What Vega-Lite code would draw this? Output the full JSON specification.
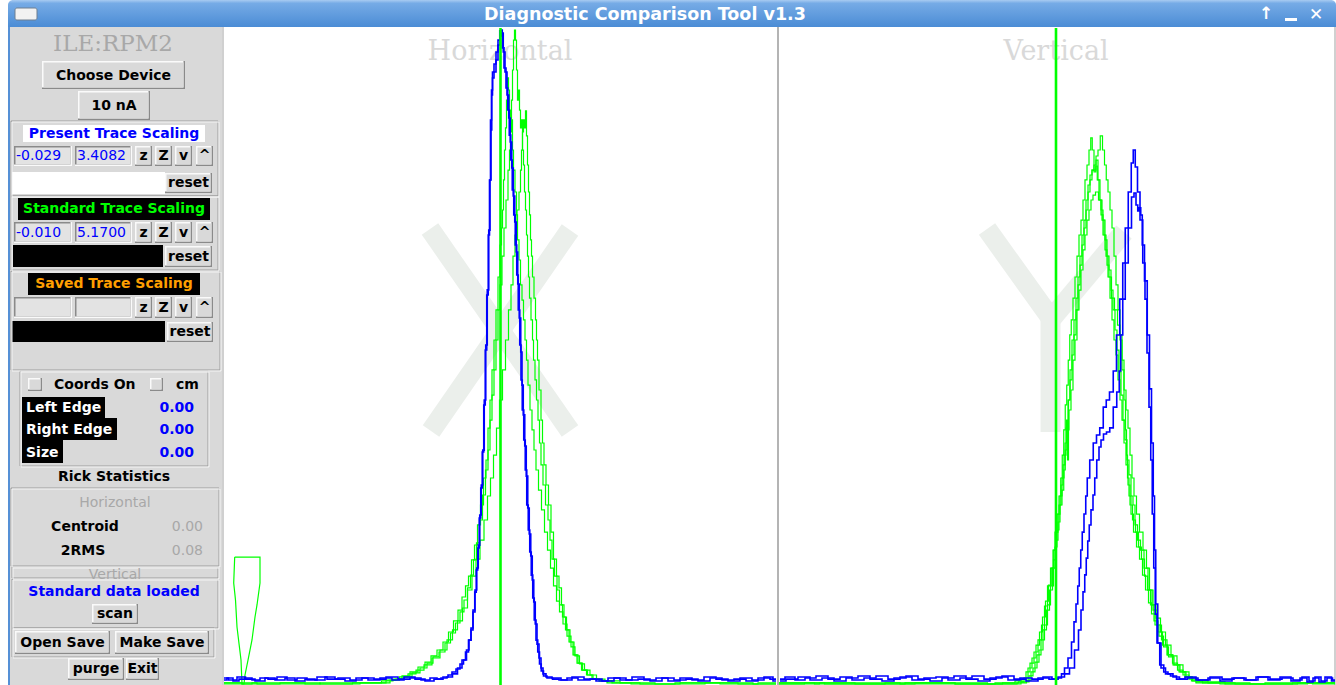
{
"$schema":"https://vega.github.io/schema/vega-lite/v6.json",
"width":1336,"height":685,"padding":0,"autosize":{"type":"none"},
"background":"#ffffff",
"config":{"view":{"stroke":null}},
"datasets":{
"titlebar":[{"x":8,"x2":1336,"y":0,"y2":27}],
"iconbox":[{"x":15,"x2":37,"y":8,"y2":20}],
"areas":[
{"x":8,"x2":10,"y":27,"y2":685,"tone":"frame"},
{"x":10,"x2":222,"y":27,"y2":685,"tone":"panel"},
{"x":222,"x2":224,"y":27,"y2":685,"tone":"edge"},
{"x":777,"x2":779,"y":27,"y2":685,"tone":"divider"},
{"x":1334,"x2":1336,"y":27,"y2":685,"tone":"edge"},
{"x":23,"x2":205,"y":125,"y2":142,"tone":"paper"},
{"x":12,"x2":165,"y":172,"y2":194,"tone":"paper"},
{"x":18,"x2":210,"y":198,"y2":220,"tone":"ink"},
{"x":13,"x2":163,"y":245,"y2":267,"tone":"ink"},
{"x":28,"x2":200,"y":273,"y2":295,"tone":"ink"},
{"x":12,"x2":165,"y":321,"y2":342,"tone":"ink"},
{"x":22,"x2":105,"y":397,"y2":418,"tone":"ink"},
{"x":22,"x2":117,"y":418,"y2":440,"tone":"ink"},
{"x":22,"x2":63,"y":440,"y2":463,"tone":"ink"},
{"x":1285,"x2":1297,"y":18,"y2":21,"tone":"inverse"}
],
"frames":[
{"x":11,"x2":218,"y":121,"y2":196},
{"x":11,"x2":218,"y":196,"y2":270},
{"x":11,"x2":220,"y":271,"y2":370},
{"x":20,"x2":208,"y":371,"y2":466},
{"x":11,"x2":219,"y":488,"y2":566},
{"x":12,"x2":218,"y":567,"y2":578},
{"x":12,"x2":218,"y":579,"y2":628},
{"x":12,"x2":214,"y":628,"y2":657}
],
"raised":[
{"x":42,"x2":185,"y":61,"y2":89},
{"x":78,"x2":150,"y":91,"y2":120},
{"x":135,"x2":152,"y":146,"y2":166},{"x":155,"x2":172,"y":146,"y2":166},{"x":175,"x2":192,"y":146,"y2":166},{"x":196,"x2":213,"y":146,"y2":166},
{"x":135,"x2":152,"y":222,"y2":243},{"x":155,"x2":172,"y":222,"y2":243},{"x":175,"x2":192,"y":222,"y2":243},{"x":196,"x2":213,"y":222,"y2":243},
{"x":135,"x2":152,"y":297,"y2":318},{"x":155,"x2":172,"y":297,"y2":318},{"x":175,"x2":192,"y":297,"y2":318},{"x":196,"x2":213,"y":297,"y2":318},
{"x":165,"x2":212,"y":173,"y2":193},
{"x":165,"x2":212,"y":246,"y2":267},
{"x":167,"x2":213,"y":322,"y2":342},
{"x":28,"x2":42,"y":378,"y2":391},
{"x":150,"x2":163,"y":378,"y2":391},
{"x":92,"x2":138,"y":604,"y2":624},
{"x":15,"x2":110,"y":631,"y2":654},
{"x":115,"x2":209,"y":631,"y2":654},
{"x":68,"x2":124,"y":658,"y2":680},
{"x":126,"x2":159,"y":658,"y2":680}
],
"sunken":[
{"x":14,"x2":72,"y":146,"y2":166},{"x":75,"x2":132,"y":146,"y2":166},
{"x":14,"x2":72,"y":222,"y2":243},{"x":75,"x2":132,"y":222,"y2":243},
{"x":14,"x2":72,"y":297,"y2":318},{"x":75,"x2":132,"y":297,"y2":318}
],
"glyph":[
{"s":"x1","x":430,"y":229},{"s":"x1","x":570,"y":431},
{"s":"x2","x":570,"y":230},{"s":"x2","x":431,"y":431},
{"s":"y1","x":987,"y":229},{"s":"y1","x":1055,"y":324},
{"s":"y2","x":1124,"y":232},{"s":"y2","x":1047,"y":324},
{"s":"y3","x":1050.5,"y":316},{"s":"y3","x":1050.6,"y":432}
],
"plotTitles":[{"label":"Horizontal","x":500,"y":52},{"label":"Vertical","x":1056,"y":52}],
"device":[{"label":"ILE:RPM2","x":113,"y":44}],
"windowTitle":[{"label":"Diagnostic Comparison Tool v1.3","x":645,"y":15}],
"windowIcons":[{"label":"↑","x":1266,"y":14},{"label":"✕","x":1316,"y":15}],
"boldCenter":[
{"label":"Choose Device","x":113.5,"y":75.5,"tone":"ink"},
{"label":"10 nA","x":114,"y":106,"tone":"ink"},
{"label":"Present Trace Scaling","x":114,"y":133.5,"tone":"present"},
{"label":"z","x":143.5,"y":156,"tone":"ink"},{"label":"Z","x":163.5,"y":156,"tone":"ink"},{"label":"v","x":183.5,"y":156,"tone":"ink"},{"label":"^","x":204.5,"y":156,"tone":"ink"},
{"label":"reset","x":188.5,"y":183,"tone":"ink"},
{"label":"Standard Trace Scaling","x":114,"y":209,"tone":"standard"},
{"label":"z","x":143.5,"y":232.5,"tone":"ink"},{"label":"Z","x":163.5,"y":232.5,"tone":"ink"},{"label":"v","x":183.5,"y":232.5,"tone":"ink"},{"label":"^","x":204.5,"y":232.5,"tone":"ink"},
{"label":"reset","x":188.5,"y":256.5,"tone":"ink"},
{"label":"Saved Trace Scaling","x":114,"y":284,"tone":"saved"},
{"label":"z","x":143.5,"y":307.5,"tone":"ink"},{"label":"Z","x":163.5,"y":307.5,"tone":"ink"},{"label":"v","x":183.5,"y":307.5,"tone":"ink"},{"label":"^","x":204.5,"y":307.5,"tone":"ink"},
{"label":"reset","x":190,"y":332,"tone":"ink"},
{"label":"Rick Statistics","x":114,"y":476.5,"tone":"ink"},
{"label":"Centroid","x":85,"y":526.5,"tone":"ink"},
{"label":"2RMS","x":83,"y":550.5,"tone":"ink"},
{"label":"Standard data loaded","x":114,"y":591.5,"tone":"present"},
{"label":"scan","x":115,"y":614,"tone":"ink"},
{"label":"Open Save","x":62.5,"y":642.5,"tone":"ink"},
{"label":"Make Save","x":162,"y":642.5,"tone":"ink"},
{"label":"purge","x":96,"y":669,"tone":"ink"},
{"label":"Exit","x":142.5,"y":669,"tone":"ink"}
],
"boldLeft":[
{"label":"Coords On","x":54,"y":384.5,"tone":"ink"},
{"label":"cm","x":176,"y":384.5,"tone":"ink"},
{"label":"Left Edge","x":26,"y":408,"tone":"inverse"},
{"label":"Right Edge","x":26,"y":430,"tone":"inverse"},
{"label":"Size","x":26,"y":452.5,"tone":"inverse"}
],
"boldRight":[
{"label":"0.00","x":194,"y":408,"tone":"present"},
{"label":"0.00","x":194,"y":430,"tone":"present"},
{"label":"0.00","x":194,"y":452.5,"tone":"present"}
],
"plainCenter":[
{"label":"Horizontal","x":115,"y":502.5,"tone":"muted"},
{"label":"Vertical","x":115,"y":575,"tone":"muted"}
],
"plainRight":[
{"label":"0.00","x":203,"y":526.5,"tone":"muted"},
{"label":"0.08","x":203,"y":550.5,"tone":"muted"}
],
"plainLeft":[
{"label":"-0.029","x":16,"y":156,"tone":"present"},
{"label":"3.4082","x":77,"y":156,"tone":"present"},
{"label":"-0.010","x":16,"y":232.5,"tone":"present"},
{"label":"5.1700","x":77,"y":232.5,"tone":"present"}
],
"markers":[{"m":"H","p":278.5,"v":3.4082},{"m":"H","p":278.5,"v":-0.029},{"m":"V","p":834,"v":3.4082},{"m":"V","p":834,"v":-0.029}],
"funnel":[
{"i":0,"p":12.7,"v":0.999},{"i":1,"p":38,"v":0.999},{"i":2,"p":38,"v":0.794},{"i":3,"p":35,"v":0.621},{"i":4,"p":33,"v":0.526},{"i":5,"p":30,"v":0.345},{"i":6,"p":26,"v":0.187},{"i":7,"p":23,"v":0.069},{"i":8,"p":22,"v":-0.002},{"i":9,"p":20,"v":-0.002},{"i":10,"p":19,"v":0.187},{"i":11,"p":15,"v":0.447},{"i":12,"p":13.5,"v":0.660},{"i":13,"p":11.7,"v":0.794},{"i":14,"p":12.7,"v":0.999}
],
"green":[
{"t":"gh1","p":2,"v":0.006},{"t":"gh1","p":38,"v":-0.002},{"t":"gh1","p":78,"v":0.006},{"t":"gh1","p":118,"v":-0.002},{"t":"gh1","p":158,"v":0.006},{"t":"gh1","p":170,"v":0.029},{"t":"gh1","p":178,"v":0.037},{"t":"gh1","p":186,"v":0.054},{"t":"gh1","p":194,"v":0.085},{"t":"gh1","p":202,"v":0.124},{"t":"gh1","p":208,"v":0.163},{"t":"gh1","p":214,"v":0.211},{"t":"gh1","p":220,"v":0.250},{"t":"gh1","p":226,"v":0.321},{"t":"gh1","p":231,"v":0.400},{"t":"gh1","p":236,"v":0.479},{"t":"gh1","p":240,"v":0.566},{"t":"gh1","p":244,"v":0.660},{"t":"gh1","p":247,"v":0.755},{"t":"gh1","p":250,"v":0.857},{"t":"gh1","p":253,"v":0.976},{"t":"gh1","p":256,"v":1.110},{"t":"gh1","p":259,"v":1.291},{"t":"gh1","p":262,"v":1.488},{"t":"gh1","p":265,"v":1.685},{"t":"gh1","p":267,"v":1.843},{"t":"gh1","p":269,"v":2.079},{"t":"gh1","p":271,"v":2.276},{"t":"gh1","p":273,"v":2.474},{"t":"gh1","p":275,"v":2.710},{"t":"gh1","p":277,"v":2.947},{"t":"gh1","p":279,"v":3.144},{"t":"gh1","p":281,"v":3.372},{"t":"gh1","p":283,"v":3.593},{"t":"gh1","p":285,"v":3.814},{"t":"gh1","p":287,"v":4.050},{"t":"gh1","p":288,"v":4.208},{"t":"gh1","p":289,"v":4.382},{"t":"gh1","p":290,"v":4.602},{"t":"gh1","p":291,"v":4.839},{"t":"gh1","p":292,"v":5.075},{"t":"gh1","p":293,"v":5.154},{"t":"gh1","p":294,"v":5.075},{"t":"gh1","p":295,"v":4.839},{"t":"gh1","p":296,"v":4.602},{"t":"gh1","p":297,"v":4.681},{"t":"gh1","p":298,"v":4.523},{"t":"gh1","p":299,"v":4.382},{"t":"gh1","p":300,"v":4.445},{"t":"gh1","p":301,"v":4.208},{"t":"gh1","p":302,"v":4.090},{"t":"gh1","p":303,"v":3.877},{"t":"gh1","p":304,"v":3.735},{"t":"gh1","p":305,"v":3.538},{"t":"gh1","p":306,"v":3.372},{"t":"gh1","p":307,"v":3.207},{"t":"gh1","p":308,"v":3.041},{"t":"gh1","p":310,"v":2.868},{"t":"gh1","p":311,"v":2.710},{"t":"gh1","p":312,"v":2.552},{"t":"gh1","p":314,"v":2.395},{"t":"gh1","p":315,"v":2.237},{"t":"gh1","p":317,"v":2.079},{"t":"gh1","p":318,"v":1.898},{"t":"gh1","p":320,"v":1.725},{"t":"gh1","p":322,"v":1.567},{"t":"gh1","p":325,"v":1.409},{"t":"gh1","p":327,"v":1.291},{"t":"gh1","p":329,"v":1.133},{"t":"gh1","p":331,"v":0.983},{"t":"gh1","p":334,"v":0.849},{"t":"gh1","p":336,"v":0.739},{"t":"gh1","p":339,"v":0.621},{"t":"gh1","p":342,"v":0.526},{"t":"gh1","p":345,"v":0.424},{"t":"gh1","p":349,"v":0.329},{"t":"gh1","p":353,"v":0.227},{"t":"gh1","p":357,"v":0.163},{"t":"gh1","p":362,"v":0.108},{"t":"gh1","p":367,"v":0.069},{"t":"gh1","p":373,"v":0.037},{"t":"gh1","p":382,"v":0.022},{"t":"gh1","p":398,"v":0.006},{"t":"gh1","p":438,"v":-0.002},{"t":"gh1","p":478,"v":0.006},{"t":"gh1","p":518,"v":-0.002},{"t":"gh1","p":554,"v":0.006},
{"t":"gh2","p":2,"v":-0.002},{"t":"gh2","p":58,"v":0.006},{"t":"gh2","p":108,"v":-0.002},{"t":"gh2","p":153,"v":0.006},{"t":"gh2","p":166,"v":0.022},{"t":"gh2","p":176,"v":0.037},{"t":"gh2","p":184,"v":0.062},{"t":"gh2","p":192,"v":0.093},{"t":"gh2","p":200,"v":0.132},{"t":"gh2","p":206,"v":0.171},{"t":"gh2","p":212,"v":0.219},{"t":"gh2","p":218,"v":0.266},{"t":"gh2","p":224,"v":0.329},{"t":"gh2","p":229,"v":0.408},{"t":"gh2","p":234,"v":0.495},{"t":"gh2","p":238,"v":0.581},{"t":"gh2","p":242,"v":0.684},{"t":"gh2","p":245,"v":0.771},{"t":"gh2","p":248,"v":0.849},{"t":"gh2","p":251,"v":0.976},{"t":"gh2","p":254,"v":1.094},{"t":"gh2","p":257,"v":1.252},{"t":"gh2","p":260,"v":1.409},{"t":"gh2","p":263,"v":1.622},{"t":"gh2","p":265,"v":1.764},{"t":"gh2","p":267,"v":2.016},{"t":"gh2","p":269,"v":2.237},{"t":"gh2","p":271,"v":2.474},{"t":"gh2","p":273,"v":2.710},{"t":"gh2","p":275,"v":2.947},{"t":"gh2","p":277,"v":3.207},{"t":"gh2","p":279,"v":3.459},{"t":"gh2","p":280,"v":3.593},{"t":"gh2","p":281,"v":3.735},{"t":"gh2","p":282,"v":3.972},{"t":"gh2","p":283,"v":4.208},{"t":"gh2","p":284,"v":4.382},{"t":"gh2","p":285,"v":4.602},{"t":"gh2","p":286,"v":4.776},{"t":"gh2","p":287,"v":4.681},{"t":"gh2","p":288,"v":4.523},{"t":"gh2","p":289,"v":4.350},{"t":"gh2","p":290,"v":4.445},{"t":"gh2","p":291,"v":4.208},{"t":"gh2","p":292,"v":4.050},{"t":"gh2","p":294,"v":3.877},{"t":"gh2","p":295,"v":3.696},{"t":"gh2","p":296,"v":3.499},{"t":"gh2","p":298,"v":3.341},{"t":"gh2","p":299,"v":3.144},{"t":"gh2","p":301,"v":3.025},{"t":"gh2","p":302,"v":2.868},{"t":"gh2","p":304,"v":2.710},{"t":"gh2","p":305,"v":2.552},{"t":"gh2","p":307,"v":2.355},{"t":"gh2","p":309,"v":2.158},{"t":"gh2","p":311,"v":2.001},{"t":"gh2","p":313,"v":1.843},{"t":"gh2","p":315,"v":1.685},{"t":"gh2","p":318,"v":1.527},{"t":"gh2","p":321,"v":1.370},{"t":"gh2","p":324,"v":1.196},{"t":"gh2","p":327,"v":1.054},{"t":"gh2","p":330,"v":0.912},{"t":"gh2","p":333,"v":0.771},{"t":"gh2","p":336,"v":0.652},{"t":"gh2","p":339,"v":0.566},{"t":"gh2","p":343,"v":0.471},{"t":"gh2","p":347,"v":0.376},{"t":"gh2","p":351,"v":0.290},{"t":"gh2","p":355,"v":0.219},{"t":"gh2","p":360,"v":0.156},{"t":"gh2","p":365,"v":0.108},{"t":"gh2","p":371,"v":0.069},{"t":"gh2","p":378,"v":0.037},{"t":"gh2","p":388,"v":0.022},{"t":"gh2","p":408,"v":0.006},{"t":"gh2","p":458,"v":-0.002},{"t":"gh2","p":508,"v":0.006},{"t":"gh2","p":554,"v":-0.002},
{"t":"gh3","p":2,"v":0.006},{"t":"gh3","p":68,"v":-0.002},{"t":"gh3","p":128,"v":0.006},{"t":"gh3","p":163,"v":0.006},{"t":"gh3","p":173,"v":0.029},{"t":"gh3","p":182,"v":0.054},{"t":"gh3","p":190,"v":0.077},{"t":"gh3","p":198,"v":0.108},{"t":"gh3","p":206,"v":0.148},{"t":"gh3","p":214,"v":0.203},{"t":"gh3","p":222,"v":0.266},{"t":"gh3","p":228,"v":0.345},{"t":"gh3","p":233,"v":0.424},{"t":"gh3","p":238,"v":0.495},{"t":"gh3","p":243,"v":0.597},{"t":"gh3","p":248,"v":0.739},{"t":"gh3","p":252,"v":0.849},{"t":"gh3","p":256,"v":0.983},{"t":"gh3","p":260,"v":1.133},{"t":"gh3","p":264,"v":1.291},{"t":"gh3","p":267,"v":1.480},{"t":"gh3","p":270,"v":1.622},{"t":"gh3","p":273,"v":1.803},{"t":"gh3","p":276,"v":2.016},{"t":"gh3","p":279,"v":2.237},{"t":"gh3","p":282,"v":2.474},{"t":"gh3","p":285,"v":2.710},{"t":"gh3","p":288,"v":2.947},{"t":"gh3","p":290,"v":3.144},{"t":"gh3","p":292,"v":3.372},{"t":"gh3","p":294,"v":3.538},{"t":"gh3","p":296,"v":3.735},{"t":"gh3","p":298,"v":3.877},{"t":"gh3","p":299,"v":4.050},{"t":"gh3","p":300,"v":4.208},{"t":"gh3","p":301,"v":4.350},{"t":"gh3","p":302,"v":4.445},{"t":"gh3","p":303,"v":4.382},{"t":"gh3","p":304,"v":4.516},{"t":"gh3","p":305,"v":4.319},{"t":"gh3","p":306,"v":4.090},{"t":"gh3","p":307,"v":3.877},{"t":"gh3","p":308,"v":3.696},{"t":"gh3","p":309,"v":3.499},{"t":"gh3","p":310,"v":3.372},{"t":"gh3","p":311,"v":3.207},{"t":"gh3","p":313,"v":3.041},{"t":"gh3","p":314,"v":2.868},{"t":"gh3","p":315,"v":2.710},{"t":"gh3","p":316,"v":2.552},{"t":"gh3","p":318,"v":2.316},{"t":"gh3","p":320,"v":2.079},{"t":"gh3","p":321,"v":1.898},{"t":"gh3","p":323,"v":1.725},{"t":"gh3","p":325,"v":1.567},{"t":"gh3","p":328,"v":1.409},{"t":"gh3","p":330,"v":1.196},{"t":"gh3","p":333,"v":0.983},{"t":"gh3","p":336,"v":0.849},{"t":"gh3","p":338,"v":0.755},{"t":"gh3","p":341,"v":0.621},{"t":"gh3","p":343,"v":0.526},{"t":"gh3","p":346,"v":0.424},{"t":"gh3","p":350,"v":0.329},{"t":"gh3","p":354,"v":0.227},{"t":"gh3","p":358,"v":0.163},{"t":"gh3","p":363,"v":0.108},{"t":"gh3","p":368,"v":0.069},{"t":"gh3","p":374,"v":0.037},{"t":"gh3","p":380,"v":0.022},{"t":"gh3","p":390,"v":0.006},{"t":"gh3","p":428,"v":-0.002},{"t":"gh3","p":478,"v":0.006},{"t":"gh3","p":554,"v":-0.002},
{"t":"gv1","p":557,"v":-0.002},{"t":"gv1","p":608,"v":0.006},{"t":"gv1","p":658,"v":-0.002},{"t":"gv1","p":708,"v":0.006},{"t":"gv1","p":758,"v":-0.002},{"t":"gv1","p":788,"v":0.006},{"t":"gv1","p":798,"v":0.022},{"t":"gv1","p":802,"v":0.037},{"t":"gv1","p":806,"v":0.093},{"t":"gv1","p":810,"v":0.163},{"t":"gv1","p":814,"v":0.250},{"t":"gv1","p":818,"v":0.345},{"t":"gv1","p":821,"v":0.463},{"t":"gv1","p":824,"v":0.613},{"t":"gv1","p":827,"v":0.771},{"t":"gv1","p":830,"v":0.912},{"t":"gv1","p":832,"v":1.054},{"t":"gv1","p":834,"v":1.196},{"t":"gv1","p":836,"v":1.338},{"t":"gv1","p":838,"v":1.480},{"t":"gv1","p":839.5,"v":1.622},{"t":"gv1","p":841,"v":1.803},{"t":"gv1","p":842.5,"v":2.001},{"t":"gv1","p":844,"v":2.198},{"t":"gv1","p":845.5,"v":2.355},{"t":"gv1","p":847,"v":2.552},{"t":"gv1","p":848.5,"v":2.750},{"t":"gv1","p":850,"v":2.868},{"t":"gv1","p":852,"v":3.041},{"t":"gv1","p":854,"v":3.207},{"t":"gv1","p":856,"v":3.372},{"t":"gv1","p":858,"v":3.538},{"t":"gv1","p":860,"v":3.656},{"t":"gv1","p":862,"v":3.814},{"t":"gv1","p":864,"v":3.972},{"t":"gv1","p":866,"v":4.090},{"t":"gv1","p":868,"v":4.208},{"t":"gv1","p":869.5,"v":4.303},{"t":"gv1","p":871,"v":4.208},{"t":"gv1","p":873,"v":4.050},{"t":"gv1","p":875,"v":4.129},{"t":"gv1","p":877,"v":3.972},{"t":"gv1","p":879,"v":3.814},{"t":"gv1","p":881,"v":3.656},{"t":"gv1","p":883,"v":3.538},{"t":"gv1","p":885,"v":3.372},{"t":"gv1","p":887,"v":3.207},{"t":"gv1","p":889,"v":3.041},{"t":"gv1","p":891,"v":2.868},{"t":"gv1","p":893,"v":2.710},{"t":"gv1","p":895,"v":2.592},{"t":"gv1","p":897,"v":2.395},{"t":"gv1","p":899,"v":2.237},{"t":"gv1","p":901,"v":2.079},{"t":"gv1","p":903,"v":1.898},{"t":"gv1","p":905,"v":1.725},{"t":"gv1","p":907,"v":1.567},{"t":"gv1","p":909,"v":1.409},{"t":"gv1","p":912,"v":1.291},{"t":"gv1","p":915,"v":1.196},{"t":"gv1","p":918,"v":1.078},{"t":"gv1","p":921,"v":0.983},{"t":"gv1","p":924,"v":0.849},{"t":"gv1","p":927,"v":0.739},{"t":"gv1","p":930,"v":0.621},{"t":"gv1","p":934,"v":0.495},{"t":"gv1","p":938,"v":0.408},{"t":"gv1","p":943,"v":0.305},{"t":"gv1","p":948,"v":0.227},{"t":"gv1","p":953,"v":0.163},{"t":"gv1","p":958,"v":0.108},{"t":"gv1","p":964,"v":0.069},{"t":"gv1","p":970,"v":0.037},{"t":"gv1","p":978,"v":0.006},{"t":"gv1","p":1018,"v":-0.002},{"t":"gv1","p":1068,"v":0.006},{"t":"gv1","p":1113,"v":-0.002},
{"t":"gv2","p":557,"v":0.006},{"t":"gv2","p":628,"v":-0.002},{"t":"gv2","p":698,"v":0.006},{"t":"gv2","p":768,"v":-0.002},{"t":"gv2","p":793,"v":0.006},{"t":"gv2","p":800,"v":0.014},{"t":"gv2","p":804,"v":0.045},{"t":"gv2","p":808,"v":0.124},{"t":"gv2","p":812,"v":0.203},{"t":"gv2","p":816,"v":0.305},{"t":"gv2","p":819,"v":0.408},{"t":"gv2","p":822,"v":0.526},{"t":"gv2","p":825,"v":0.652},{"t":"gv2","p":828,"v":0.778},{"t":"gv2","p":830.5,"v":0.912},{"t":"gv2","p":833,"v":1.054},{"t":"gv2","p":835,"v":1.196},{"t":"gv2","p":837,"v":1.338},{"t":"gv2","p":839,"v":1.480},{"t":"gv2","p":841,"v":1.622},{"t":"gv2","p":843,"v":1.803},{"t":"gv2","p":845,"v":2.016},{"t":"gv2","p":847,"v":2.237},{"t":"gv2","p":849,"v":2.395},{"t":"gv2","p":851,"v":2.592},{"t":"gv2","p":853,"v":2.750},{"t":"gv2","p":855,"v":2.947},{"t":"gv2","p":857,"v":3.144},{"t":"gv2","p":859,"v":3.301},{"t":"gv2","p":861,"v":3.459},{"t":"gv2","p":863,"v":3.593},{"t":"gv2","p":865,"v":3.735},{"t":"gv2","p":867,"v":3.877},{"t":"gv2","p":869,"v":3.972},{"t":"gv2","p":871,"v":4.050},{"t":"gv2","p":873,"v":4.090},{"t":"gv2","p":875,"v":4.161},{"t":"gv2","p":877,"v":4.208},{"t":"gv2","p":879.5,"v":4.319},{"t":"gv2","p":881.5,"v":4.208},{"t":"gv2","p":883.5,"v":4.090},{"t":"gv2","p":885,"v":3.972},{"t":"gv2","p":887,"v":3.877},{"t":"gv2","p":889,"v":3.735},{"t":"gv2","p":891,"v":3.593},{"t":"gv2","p":893,"v":3.372},{"t":"gv2","p":895,"v":3.144},{"t":"gv2","p":897,"v":2.947},{"t":"gv2","p":899,"v":2.750},{"t":"gv2","p":901,"v":2.552},{"t":"gv2","p":903,"v":2.316},{"t":"gv2","p":905,"v":2.158},{"t":"gv2","p":907,"v":2.016},{"t":"gv2","p":909,"v":1.803},{"t":"gv2","p":911,"v":1.622},{"t":"gv2","p":913,"v":1.480},{"t":"gv2","p":916,"v":1.338},{"t":"gv2","p":919,"v":1.196},{"t":"gv2","p":923,"v":1.054},{"t":"gv2","p":926,"v":0.912},{"t":"gv2","p":929,"v":0.739},{"t":"gv2","p":933,"v":0.581},{"t":"gv2","p":937,"v":0.463},{"t":"gv2","p":942,"v":0.345},{"t":"gv2","p":948,"v":0.227},{"t":"gv2","p":954,"v":0.148},{"t":"gv2","p":960,"v":0.093},{"t":"gv2","p":966,"v":0.054},{"t":"gv2","p":973,"v":0.022},{"t":"gv2","p":988,"v":0.006},{"t":"gv2","p":1038,"v":-0.002},{"t":"gv2","p":1113,"v":0.006},
{"t":"gv3","p":557,"v":-0.002},{"t":"gv3","p":638,"v":0.006},{"t":"gv3","p":718,"v":-0.002},{"t":"gv3","p":788,"v":-0.002},{"t":"gv3","p":802,"v":0.006},{"t":"gv3","p":807,"v":0.029},{"t":"gv3","p":811,"v":0.093},{"t":"gv3","p":815,"v":0.171},{"t":"gv3","p":819,"v":0.266},{"t":"gv3","p":823,"v":0.424},{"t":"gv3","p":826,"v":0.581},{"t":"gv3","p":829,"v":0.739},{"t":"gv3","p":832,"v":0.912},{"t":"gv3","p":834,"v":1.078},{"t":"gv3","p":836,"v":1.212},{"t":"gv3","p":838,"v":1.409},{"t":"gv3","p":840,"v":1.567},{"t":"gv3","p":842,"v":1.725},{"t":"gv3","p":844,"v":1.898},{"t":"gv3","p":845,"v":2.079},{"t":"gv3","p":846,"v":1.764},{"t":"gv3","p":847,"v":2.237},{"t":"gv3","p":849,"v":2.474},{"t":"gv3","p":851,"v":2.710},{"t":"gv3","p":853,"v":2.868},{"t":"gv3","p":855,"v":3.041},{"t":"gv3","p":857,"v":3.207},{"t":"gv3","p":859,"v":3.372},{"t":"gv3","p":861,"v":3.538},{"t":"gv3","p":863,"v":3.656},{"t":"gv3","p":865,"v":3.814},{"t":"gv3","p":867,"v":3.932},{"t":"gv3","p":869,"v":4.011},{"t":"gv3","p":871,"v":4.050},{"t":"gv3","p":873,"v":4.035},{"t":"gv3","p":874.5,"v":4.082},{"t":"gv3","p":876,"v":3.972},{"t":"gv3","p":878,"v":3.814},{"t":"gv3","p":880,"v":3.696},{"t":"gv3","p":882,"v":3.538},{"t":"gv3","p":884,"v":3.420},{"t":"gv3","p":886,"v":3.301},{"t":"gv3","p":888,"v":3.207},{"t":"gv3","p":891,"v":3.041},{"t":"gv3","p":894,"v":2.947},{"t":"gv3","p":897,"v":2.828},{"t":"gv3","p":899,"v":2.710},{"t":"gv3","p":901,"v":2.474},{"t":"gv3","p":903,"v":2.237},{"t":"gv3","p":904,"v":2.001},{"t":"gv3","p":905,"v":1.803},{"t":"gv3","p":906,"v":1.622},{"t":"gv3","p":908,"v":1.480},{"t":"gv3","p":910,"v":1.338},{"t":"gv3","p":913,"v":1.196},{"t":"gv3","p":916,"v":1.078},{"t":"gv3","p":919,"v":0.983},{"t":"gv3","p":922,"v":0.857},{"t":"gv3","p":925,"v":0.739},{"t":"gv3","p":928,"v":0.637},{"t":"gv3","p":931,"v":0.550},{"t":"gv3","p":935,"v":0.463},{"t":"gv3","p":939,"v":0.376},{"t":"gv3","p":944,"v":0.290},{"t":"gv3","p":949,"v":0.211},{"t":"gv3","p":955,"v":0.148},{"t":"gv3","p":961,"v":0.093},{"t":"gv3","p":967,"v":0.054},{"t":"gv3","p":974,"v":0.022},{"t":"gv3","p":998,"v":0.006},{"t":"gv3","p":1058,"v":-0.002},{"t":"gv3","p":1113,"v":0.006},
{"t":"gv4","p":557,"v":0.006},{"t":"gv4","p":648,"v":-0.002},{"t":"gv4","p":738,"v":0.006},{"t":"gv4","p":793,"v":-0.002},{"t":"gv4","p":805,"v":0.014},{"t":"gv4","p":809,"v":0.062},{"t":"gv4","p":813,"v":0.124},{"t":"gv4","p":817,"v":0.227},{"t":"gv4","p":821,"v":0.345},{"t":"gv4","p":824,"v":0.463},{"t":"gv4","p":827,"v":0.621},{"t":"gv4","p":830,"v":0.771},{"t":"gv4","p":833,"v":0.976},{"t":"gv4","p":835,"v":1.133},{"t":"gv4","p":837,"v":1.275},{"t":"gv4","p":839,"v":1.409},{"t":"gv4","p":841,"v":1.527},{"t":"gv4","p":842.5,"v":1.685},{"t":"gv4","p":844,"v":1.843},{"t":"gv4","p":846,"v":2.001},{"t":"gv4","p":848,"v":2.158},{"t":"gv4","p":850,"v":2.316},{"t":"gv4","p":852,"v":2.552},{"t":"gv4","p":854,"v":2.710},{"t":"gv4","p":856,"v":2.947},{"t":"gv4","p":858,"v":3.104},{"t":"gv4","p":860,"v":3.262},{"t":"gv4","p":862,"v":3.420},{"t":"gv4","p":864,"v":3.538},{"t":"gv4","p":866,"v":3.656},{"t":"gv4","p":868,"v":3.735},{"t":"gv4","p":870,"v":3.814},{"t":"gv4","p":872,"v":3.853},{"t":"gv4","p":875,"v":3.877},{"t":"gv4","p":878,"v":3.814},{"t":"gv4","p":880,"v":3.735},{"t":"gv4","p":882,"v":3.656},{"t":"gv4","p":884,"v":3.499},{"t":"gv4","p":886,"v":3.372},{"t":"gv4","p":888,"v":3.262},{"t":"gv4","p":890,"v":3.104},{"t":"gv4","p":892,"v":2.947},{"t":"gv4","p":894,"v":2.789},{"t":"gv4","p":896,"v":2.631},{"t":"gv4","p":898,"v":2.458},{"t":"gv4","p":900,"v":2.276},{"t":"gv4","p":902,"v":2.079},{"t":"gv4","p":904,"v":1.922},{"t":"gv4","p":906,"v":1.764},{"t":"gv4","p":908,"v":1.646},{"t":"gv4","p":910,"v":1.480},{"t":"gv4","p":912,"v":1.409},{"t":"gv4","p":914,"v":1.252},{"t":"gv4","p":917,"v":1.133},{"t":"gv4","p":920,"v":1.054},{"t":"gv4","p":924,"v":0.912},{"t":"gv4","p":928,"v":0.739},{"t":"gv4","p":932,"v":0.621},{"t":"gv4","p":936,"v":0.518},{"t":"gv4","p":941,"v":0.408},{"t":"gv4","p":946,"v":0.305},{"t":"gv4","p":952,"v":0.219},{"t":"gv4","p":958,"v":0.148},{"t":"gv4","p":964,"v":0.093},{"t":"gv4","p":970,"v":0.045},{"t":"gv4","p":978,"v":0.014},{"t":"gv4","p":1028,"v":-0.002},{"t":"gv4","p":1113,"v":0.006}
],
"blue":[
{"t":"bh1","p":2,"v":-0.003},{"t":"bh1","p":8,"v":0.008},{"t":"bh1","p":14,"v":-0.008},{"t":"bh1","p":20,"v":0.002},{"t":"bh1","p":26,"v":0.008},{"t":"bh1","p":34,"v":-0.003},{"t":"bh1","p":42,"v":0.008},{"t":"bh1","p":50,"v":0.002},{"t":"bh1","p":60,"v":0.013},{"t":"bh1","p":70,"v":-0.003},{"t":"bh1","p":80,"v":0.008},{"t":"bh1","p":90,"v":-0.003},{"t":"bh1","p":100,"v":0.013},{"t":"bh1","p":110,"v":0.002},{"t":"bh1","p":122,"v":0.008},{"t":"bh1","p":134,"v":-0.003},{"t":"bh1","p":146,"v":0.008},{"t":"bh1","p":158,"v":0.002},{"t":"bh1","p":170,"v":0.013},{"t":"bh1","p":182,"v":0.002},{"t":"bh1","p":194,"v":0.008},{"t":"bh1","p":204,"v":-0.003},{"t":"bh1","p":212,"v":0.008},{"t":"bh1","p":218,"v":0.002},{"t":"bh1","p":224,"v":0.013},{"t":"bh1","p":228,"v":0.023},{"t":"bh1","p":232,"v":0.039},{"t":"bh1","p":236,"v":0.055},{"t":"bh1","p":240,"v":0.081},{"t":"bh1","p":243,"v":0.102},{"t":"bh1","p":246,"v":0.154},{"t":"bh1","p":248,"v":0.206},{"t":"bh1","p":250,"v":0.259},{"t":"bh1","p":252,"v":0.353},{"t":"bh1","p":254,"v":0.468},{"t":"bh1","p":255.5,"v":0.583},{"t":"bh1","p":257,"v":0.703},{"t":"bh1","p":258.5,"v":0.860},{"t":"bh1","p":260,"v":1.017},{"t":"bh1","p":261.5,"v":1.200},{"t":"bh1","p":263,"v":1.462},{"t":"bh1","p":264.5,"v":1.750},{"t":"bh1","p":266,"v":2.038},{"t":"bh1","p":267.5,"v":2.351},{"t":"bh1","p":268.5,"v":2.613},{"t":"bh1","p":269.5,"v":2.875},{"t":"bh1","p":270,"v":3.058},{"t":"bh1","p":271,"v":3.178},{"t":"bh1","p":273,"v":3.220},{"t":"bh1","p":275,"v":3.283},{"t":"bh1","p":277,"v":3.345},{"t":"bh1","p":278.5,"v":3.393},{"t":"bh1","p":279.5,"v":3.398},{"t":"bh1","p":281,"v":3.304},{"t":"bh1","p":283,"v":3.199},{"t":"bh1","p":285,"v":3.094},{"t":"bh1","p":286.5,"v":2.979},{"t":"bh1","p":288,"v":2.848},{"t":"bh1","p":289.5,"v":2.718},{"t":"bh1","p":291,"v":2.561},{"t":"bh1","p":292.5,"v":2.430},{"t":"bh1","p":294,"v":2.273},{"t":"bh1","p":295.5,"v":2.116},{"t":"bh1","p":297,"v":1.933},{"t":"bh1","p":298.5,"v":1.750},{"t":"bh1","p":299.5,"v":1.567},{"t":"bh1","p":301,"v":1.410},{"t":"bh1","p":302.5,"v":1.253},{"t":"bh1","p":304,"v":1.096},{"t":"bh1","p":305.5,"v":0.913},{"t":"bh1","p":307,"v":0.782},{"t":"bh1","p":308.5,"v":0.667},{"t":"bh1","p":310,"v":0.546},{"t":"bh1","p":311.5,"v":0.426},{"t":"bh1","p":313,"v":0.311},{"t":"bh1","p":315,"v":0.206},{"t":"bh1","p":316.5,"v":0.144},{"t":"bh1","p":318.5,"v":0.081},{"t":"bh1","p":320,"v":0.044},{"t":"bh1","p":323,"v":0.018},{"t":"bh1","p":327,"v":0.008},{"t":"bh1","p":334,"v":0.002},{"t":"bh1","p":340,"v":-0.003},{"t":"bh1","p":350,"v":0.008},{"t":"bh1","p":362,"v":-0.003},{"t":"bh1","p":374,"v":0.002},{"t":"bh1","p":386,"v":-0.008},{"t":"bh1","p":398,"v":0.008},{"t":"bh1","p":410,"v":-0.003},{"t":"bh1","p":422,"v":0.002},{"t":"bh1","p":434,"v":-0.008},{"t":"bh1","p":446,"v":0.008},{"t":"bh1","p":458,"v":-0.003},{"t":"bh1","p":470,"v":0.002},{"t":"bh1","p":482,"v":-0.008},{"t":"bh1","p":494,"v":0.008},{"t":"bh1","p":506,"v":-0.003},{"t":"bh1","p":518,"v":0.002},{"t":"bh1","p":530,"v":-0.008},{"t":"bh1","p":542,"v":0.008},{"t":"bh1","p":554,"v":0.002},
{"t":"bh2","p":2,"v":0.008},{"t":"bh2","p":11,"v":-0.003},{"t":"bh2","p":19,"v":0.013},{"t":"bh2","p":28,"v":0.002},{"t":"bh2","p":38,"v":-0.008},{"t":"bh2","p":48,"v":0.008},{"t":"bh2","p":58,"v":-0.003},{"t":"bh2","p":68,"v":0.008},{"t":"bh2","p":78,"v":-0.008},{"t":"bh2","p":88,"v":0.002},{"t":"bh2","p":98,"v":-0.003},{"t":"bh2","p":108,"v":0.013},{"t":"bh2","p":118,"v":0.002},{"t":"bh2","p":128,"v":-0.008},{"t":"bh2","p":140,"v":0.008},{"t":"bh2","p":152,"v":-0.003},{"t":"bh2","p":164,"v":0.008},{"t":"bh2","p":176,"v":-0.003},{"t":"bh2","p":188,"v":0.013},{"t":"bh2","p":198,"v":0.002},{"t":"bh2","p":208,"v":-0.008},{"t":"bh2","p":216,"v":0.002},{"t":"bh2","p":222,"v":0.008},{"t":"bh2","p":228,"v":0.013},{"t":"bh2","p":233,"v":0.029},{"t":"bh2","p":238,"v":0.060},{"t":"bh2","p":242,"v":0.102},{"t":"bh2","p":245,"v":0.144},{"t":"bh2","p":248,"v":0.206},{"t":"bh2","p":250,"v":0.269},{"t":"bh2","p":252,"v":0.363},{"t":"bh2","p":253.5,"v":0.457},{"t":"bh2","p":255,"v":0.573},{"t":"bh2","p":256.5,"v":0.688},{"t":"bh2","p":258,"v":0.845},{"t":"bh2","p":259.5,"v":1.002},{"t":"bh2","p":261,"v":1.190},{"t":"bh2","p":262.5,"v":1.436},{"t":"bh2","p":264,"v":1.724},{"t":"bh2","p":265.5,"v":2.011},{"t":"bh2","p":267,"v":2.325},{"t":"bh2","p":268,"v":2.613},{"t":"bh2","p":269,"v":2.927},{"t":"bh2","p":270,"v":3.084},{"t":"bh2","p":271,"v":3.147},{"t":"bh2","p":273,"v":3.178},{"t":"bh2","p":275,"v":3.241},{"t":"bh2","p":277,"v":3.319},{"t":"bh2","p":279,"v":3.366},{"t":"bh2","p":280.5,"v":3.382},{"t":"bh2","p":282,"v":3.283},{"t":"bh2","p":284,"v":3.178},{"t":"bh2","p":286,"v":3.058},{"t":"bh2","p":287.5,"v":2.937},{"t":"bh2","p":289,"v":2.812},{"t":"bh2","p":290.5,"v":2.676},{"t":"bh2","p":292,"v":2.529},{"t":"bh2","p":293.5,"v":2.393},{"t":"bh2","p":295,"v":2.236},{"t":"bh2","p":296.5,"v":2.069},{"t":"bh2","p":298,"v":1.891},{"t":"bh2","p":299.5,"v":1.713},{"t":"bh2","p":300.5,"v":1.540},{"t":"bh2","p":302,"v":1.384},{"t":"bh2","p":303.5,"v":1.221},{"t":"bh2","p":305,"v":1.064},{"t":"bh2","p":306.5,"v":0.897},{"t":"bh2","p":308,"v":0.761},{"t":"bh2","p":309.5,"v":0.646},{"t":"bh2","p":311,"v":0.520},{"t":"bh2","p":312.5,"v":0.405},{"t":"bh2","p":314,"v":0.290},{"t":"bh2","p":316,"v":0.185},{"t":"bh2","p":318,"v":0.112},{"t":"bh2","p":320,"v":0.060},{"t":"bh2","p":322,"v":0.029},{"t":"bh2","p":326,"v":0.013},{"t":"bh2","p":334,"v":0.008},{"t":"bh2","p":344,"v":-0.003},{"t":"bh2","p":356,"v":0.013},{"t":"bh2","p":368,"v":0.002},{"t":"bh2","p":380,"v":-0.008},{"t":"bh2","p":392,"v":0.008},{"t":"bh2","p":404,"v":-0.003},{"t":"bh2","p":416,"v":0.013},{"t":"bh2","p":428,"v":-0.003},{"t":"bh2","p":440,"v":0.008},{"t":"bh2","p":452,"v":-0.008},{"t":"bh2","p":464,"v":0.008},{"t":"bh2","p":476,"v":-0.003},{"t":"bh2","p":488,"v":0.013},{"t":"bh2","p":500,"v":0.002},{"t":"bh2","p":512,"v":-0.008},{"t":"bh2","p":524,"v":0.008},{"t":"bh2","p":536,"v":-0.003},{"t":"bh2","p":548,"v":0.013},{"t":"bh2","p":554,"v":-0.008},
{"t":"bva","p":558,"v":0.002},{"t":"bva","p":568,"v":0.013},{"t":"bva","p":578,"v":-0.003},{"t":"bva","p":588,"v":0.008},{"t":"bva","p":600,"v":0.018},{"t":"bva","p":612,"v":0.002},{"t":"bva","p":624,"v":0.013},{"t":"bva","p":636,"v":-0.003},{"t":"bva","p":648,"v":0.008},{"t":"bva","p":660,"v":0.018},{"t":"bva","p":672,"v":0.002},{"t":"bva","p":684,"v":0.013},{"t":"bva","p":696,"v":-0.003},{"t":"bva","p":708,"v":0.008},{"t":"bva","p":720,"v":0.013},{"t":"bva","p":732,"v":-0.003},{"t":"bva","p":744,"v":0.008},{"t":"bva","p":756,"v":0.018},{"t":"bva","p":768,"v":0.002},{"t":"bva","p":780,"v":0.013},{"t":"bva","p":792,"v":-0.003},{"t":"bva","p":804,"v":0.008},{"t":"bva","p":816,"v":0.002},{"t":"bva","p":826,"v":0.013},{"t":"bva","p":834,"v":0.002},{"t":"bva","p":838,"v":0.008},{"t":"bva","p":841,"v":0.029},{"t":"bva","p":844,"v":0.060},{"t":"bva","p":848,"v":0.112},{"t":"bva","p":851,"v":0.196},{"t":"bva","p":853,"v":0.301},{"t":"bva","p":855,"v":0.395},{"t":"bva","p":856.5,"v":0.489},{"t":"bva","p":858,"v":0.583},{"t":"bva","p":859.5,"v":0.677},{"t":"bva","p":861,"v":0.771},{"t":"bva","p":863,"v":0.866},{"t":"bva","p":864.5,"v":0.960},{"t":"bva","p":866,"v":1.054},{"t":"bva","p":869.5,"v":1.148},{"t":"bva","p":873,"v":1.237},{"t":"bva","p":876,"v":1.279},{"t":"bva","p":879.5,"v":1.316},{"t":"bva","p":883,"v":1.425},{"t":"bva","p":885.5,"v":1.462},{"t":"bva","p":889.5,"v":1.504},{"t":"bva","p":893,"v":1.614},{"t":"bva","p":896,"v":1.802},{"t":"bva","p":899.5,"v":1.990},{"t":"bva","p":902,"v":2.179},{"t":"bva","p":904.5,"v":2.362},{"t":"bva","p":908,"v":2.550},{"t":"bva","p":910.5,"v":2.702},{"t":"bva","p":912,"v":2.770},{"t":"bva","p":914.5,"v":2.681},{"t":"bva","p":916.5,"v":2.550},{"t":"bva","p":919.5,"v":2.404},{"t":"bva","p":922,"v":2.179},{"t":"bva","p":924,"v":1.990},{"t":"bva","p":926,"v":1.708},{"t":"bva","p":928,"v":1.425},{"t":"bva","p":929.5,"v":1.148},{"t":"bva","p":931,"v":0.866},{"t":"bva","p":932.5,"v":0.583},{"t":"bva","p":934,"v":0.342},{"t":"bva","p":936,"v":0.191},{"t":"bva","p":939.5,"v":0.076},{"t":"bva","p":944,"v":0.039},{"t":"bva","p":948,"v":0.029},{"t":"bva","p":954,"v":0.013},{"t":"bva","p":961,"v":0.002},{"t":"bva","p":970,"v":0.008},{"t":"bva","p":982,"v":-0.003},{"t":"bva","p":994,"v":0.013},{"t":"bva","p":1006,"v":0.002},{"t":"bva","p":1018,"v":0.008},{"t":"bva","p":1030,"v":-0.003},{"t":"bva","p":1042,"v":0.013},{"t":"bva","p":1054,"v":0.002},{"t":"bva","p":1066,"v":0.008},{"t":"bva","p":1076,"v":-0.003},{"t":"bva","p":1084,"v":0.013},{"t":"bva","p":1090,"v":-0.008},{"t":"bva","p":1096,"v":0.013},{"t":"bva","p":1102,"v":-0.008},{"t":"bva","p":1108,"v":0.008},{"t":"bva","p":1113,"v":-0.003},
{"t":"bvb","p":558,"v":-0.008},{"t":"bvb","p":570,"v":0.002},{"t":"bvb","p":582,"v":0.013},{"t":"bvb","p":594,"v":-0.003},{"t":"bvb","p":606,"v":0.008},{"t":"bvb","p":618,"v":-0.008},{"t":"bvb","p":630,"v":0.008},{"t":"bvb","p":642,"v":0.018},{"t":"bvb","p":654,"v":0.002},{"t":"bvb","p":666,"v":-0.008},{"t":"bvb","p":678,"v":0.008},{"t":"bvb","p":690,"v":0.018},{"t":"bvb","p":702,"v":0.002},{"t":"bvb","p":714,"v":-0.008},{"t":"bvb","p":726,"v":0.008},{"t":"bvb","p":738,"v":0.018},{"t":"bvb","p":750,"v":0.002},{"t":"bvb","p":762,"v":-0.008},{"t":"bvb","p":774,"v":0.008},{"t":"bvb","p":786,"v":0.018},{"t":"bvb","p":798,"v":0.002},{"t":"bvb","p":810,"v":-0.008},{"t":"bvb","p":822,"v":0.008},{"t":"bvb","p":832,"v":0.002},{"t":"bvb","p":840,"v":0.013},{"t":"bvb","p":845,"v":0.029},{"t":"bvb","p":850,"v":0.060},{"t":"bvb","p":855,"v":0.154},{"t":"bvb","p":858,"v":0.259},{"t":"bvb","p":860,"v":0.363},{"t":"bvb","p":862,"v":0.458},{"t":"bvb","p":863.5,"v":0.547},{"t":"bvb","p":865,"v":0.635},{"t":"bvb","p":866.5,"v":0.724},{"t":"bvb","p":868,"v":0.808},{"t":"bvb","p":870,"v":0.887},{"t":"bvb","p":872,"v":0.965},{"t":"bvb","p":873.5,"v":1.054},{"t":"bvb","p":876,"v":1.148},{"t":"bvb","p":878,"v":1.216},{"t":"bvb","p":880,"v":1.253},{"t":"bvb","p":883,"v":1.284},{"t":"bvb","p":886,"v":1.295},{"t":"bvb","p":889.5,"v":1.316},{"t":"bvb","p":893,"v":1.425},{"t":"bvb","p":896.5,"v":1.504},{"t":"bvb","p":898,"v":1.614},{"t":"bvb","p":899.5,"v":1.802},{"t":"bvb","p":902,"v":1.990},{"t":"bvb","p":904.5,"v":2.179},{"t":"bvb","p":908,"v":2.362},{"t":"bvb","p":911,"v":2.524},{"t":"bvb","p":913,"v":2.545},{"t":"bvb","p":915,"v":2.482},{"t":"bvb","p":916.5,"v":2.451},{"t":"bvb","p":918,"v":2.467},{"t":"bvb","p":919.5,"v":2.430},{"t":"bvb","p":921,"v":2.273},{"t":"bvb","p":924,"v":2.085},{"t":"bvb","p":926.5,"v":1.802},{"t":"bvb","p":928.5,"v":1.520},{"t":"bvb","p":930.5,"v":1.237},{"t":"bvb","p":932,"v":0.960},{"t":"bvb","p":933,"v":0.677},{"t":"bvb","p":934.5,"v":0.395},{"t":"bvb","p":937,"v":0.191},{"t":"bvb","p":941,"v":0.060},{"t":"bvb","p":946,"v":0.029},{"t":"bvb","p":951,"v":0.018},{"t":"bvb","p":958,"v":0.002},{"t":"bvb","p":968,"v":0.013},{"t":"bvb","p":980,"v":-0.003},{"t":"bvb","p":992,"v":0.008},{"t":"bvb","p":1004,"v":-0.008},{"t":"bvb","p":1016,"v":0.008},{"t":"bvb","p":1028,"v":-0.003},{"t":"bvb","p":1040,"v":0.013},{"t":"bvb","p":1052,"v":-0.003},{"t":"bvb","p":1064,"v":0.013},{"t":"bvb","p":1074,"v":-0.008},{"t":"bvb","p":1082,"v":0.008},{"t":"bvb","p":1088,"v":-0.013},{"t":"bvb","p":1094,"v":0.008},{"t":"bvb","p":1100,"v":-0.013},{"t":"bvb","p":1106,"v":0.013},{"t":"bvb","p":1113,"v":-0.008}
]
},
"layer":[
{
"encoding":{
"x":{"field":"x","type":"quantitative","scale":{"domain":[0,1336],"range":[0,1336],"nice":false,"zero":false},"axis":null},
"y":{"field":"y","type":"quantitative","scale":{"domain":[0,685],"range":[0,685],"nice":false,"zero":false},"axis":null}
},
"layer":[
{"data":{"name":"titlebar"},"mark":{"type":"rect","cornerRadiusTopLeft":5,"cornerRadiusTopRight":5,"fill":{"gradient":"linear","x1":0,"y1":0,"x2":0,"y2":1,"stops":[{"offset":0,"color":"#a8cbf1"},{"offset":0.12,"color":"#76abe6"},{"offset":1,"color":"#4b8cd5"}]}},"encoding":{"x2":{"field":"x2"},"y2":{"field":"y2"}}},
{"data":{"name":"areas"},"mark":{"type":"rect"},"encoding":{"x2":{"field":"x2"},"y2":{"field":"y2"},"color":{"field":"tone","type":"nominal","legend":null,"scale":{"domain":["frame","panel","edge","divider","paper","ink","inverse","present","standard","saved","muted"],"range":["#5590d6","#d9d9d9","#d0d0d0","#b4b4b4","#ffffff","#000000","#ffffff","#0000ff","#00ff00","#ff9f00","#a8a8a8"]}}}},
{"data":{"name":"iconbox"},"mark":{"type":"rect","fill":"#f2f2f2","stroke":"#6f7f90","strokeWidth":1,"cornerRadius":2},"encoding":{"x2":{"field":"x2"},"y2":{"field":"y2"}}},
{"data":{"name":"frames"},"mark":{"type":"rect","filled":false,"color":"#9c9c9c","strokeWidth":1},"encoding":{"x2":{"field":"x2"},"y2":{"field":"y2"}}},
{"data":{"name":"frames"},"mark":{"type":"rect","filled":false,"color":"#f6f6f6","strokeWidth":1,"xOffset":1,"yOffset":1,"x2Offset":1,"y2Offset":1},"encoding":{"x2":{"field":"x2"},"y2":{"field":"y2"}}},
{"data":{"name":"raised"},"mark":{"type":"rect","color":"#8a8a8a"},"encoding":{"x2":{"field":"x2"},"y2":{"field":"y2"}}},
{"data":{"name":"raised"},"mark":{"type":"rect","color":"#fafafa","x2Offset":-1.5,"y2Offset":-1.5},"encoding":{"x2":{"field":"x2"},"y2":{"field":"y2"}}},
{"data":{"name":"raised"},"mark":{"type":"rect","color":"#d9d9d9","xOffset":1.5,"yOffset":1.5,"x2Offset":-1.5,"y2Offset":-1.5},"encoding":{"x2":{"field":"x2"},"y2":{"field":"y2"}}},
{"data":{"name":"sunken"},"mark":{"type":"rect","color":"#fafafa"},"encoding":{"x2":{"field":"x2"},"y2":{"field":"y2"}}},
{"data":{"name":"sunken"},"mark":{"type":"rect","color":"#8a8a8a","x2Offset":-1.5,"y2Offset":-1.5},"encoding":{"x2":{"field":"x2"},"y2":{"field":"y2"}}},
{"data":{"name":"sunken"},"mark":{"type":"rect","color":"#e3e3e3","xOffset":1.5,"yOffset":1.5,"x2Offset":-1.5,"y2Offset":-1.5},"encoding":{"x2":{"field":"x2"},"y2":{"field":"y2"}}},
{"data":{"name":"glyph"},"mark":{"type":"line","color":"#ebefeb","strokeWidth":20,"strokeCap":"butt"},"encoding":{"detail":{"field":"s"}}},
{"data":{"name":"plotTitles"},"mark":{"type":"text","font":"DejaVu Serif","fontSize":27,"color":"#d9d9d9","align":"center","baseline":"middle"},"encoding":{"text":{"field":"label"}}},
{"data":{"name":"device"},"mark":{"type":"text","font":"DejaVu Serif","fontSize":23,"color":"#a8a8a8","align":"center","baseline":"middle"},"encoding":{"text":{"field":"label"}}},
{"data":{"name":"windowTitle"},"mark":{"type":"text","font":"DejaVu Sans","fontWeight":"bold","fontSize":17.5,"color":"#ffffff","align":"center","baseline":"middle"},"encoding":{"text":{"field":"label"}}},
{"data":{"name":"windowIcons"},"mark":{"type":"text","font":"DejaVu Sans","fontWeight":"bold","fontSize":17,"color":"#ffffff","align":"center","baseline":"middle"},"encoding":{"text":{"field":"label"}}},
{"data":{"name":"boldCenter"},"mark":{"type":"text","font":"DejaVu Sans","fontWeight":"bold","fontSize":14,"align":"center","baseline":"middle"},"encoding":{"text":{"field":"label"},"color":{"field":"tone","type":"nominal","legend":null,"scale":{"domain":["frame","panel","edge","divider","paper","ink","inverse","present","standard","saved","muted"],"range":["#5590d6","#d9d9d9","#d0d0d0","#b4b4b4","#ffffff","#000000","#ffffff","#0000ff","#00ff00","#ff9f00","#a8a8a8"]}}}},
{"data":{"name":"boldLeft"},"mark":{"type":"text","font":"DejaVu Sans","fontWeight":"bold","fontSize":14,"align":"left","baseline":"middle"},"encoding":{"text":{"field":"label"},"color":{"field":"tone","type":"nominal","legend":null,"scale":{"domain":["frame","panel","edge","divider","paper","ink","inverse","present","standard","saved","muted"],"range":["#5590d6","#d9d9d9","#d0d0d0","#b4b4b4","#ffffff","#000000","#ffffff","#0000ff","#00ff00","#ff9f00","#a8a8a8"]}}}},
{"data":{"name":"boldRight"},"mark":{"type":"text","font":"DejaVu Sans","fontWeight":"bold","fontSize":14,"align":"right","baseline":"middle"},"encoding":{"text":{"field":"label"},"color":{"field":"tone","type":"nominal","legend":null,"scale":{"domain":["frame","panel","edge","divider","paper","ink","inverse","present","standard","saved","muted"],"range":["#5590d6","#d9d9d9","#d0d0d0","#b4b4b4","#ffffff","#000000","#ffffff","#0000ff","#00ff00","#ff9f00","#a8a8a8"]}}}},
{"data":{"name":"plainCenter"},"mark":{"type":"text","font":"DejaVu Sans","fontSize":14,"align":"center","baseline":"middle"},"encoding":{"text":{"field":"label"},"color":{"field":"tone","type":"nominal","legend":null,"scale":{"domain":["frame","panel","edge","divider","paper","ink","inverse","present","standard","saved","muted"],"range":["#5590d6","#d9d9d9","#d0d0d0","#b4b4b4","#ffffff","#000000","#ffffff","#0000ff","#00ff00","#ff9f00","#a8a8a8"]}}}},
{"data":{"name":"plainRight"},"mark":{"type":"text","font":"DejaVu Sans","fontSize":14,"align":"right","baseline":"middle"},"encoding":{"text":{"field":"label"},"color":{"field":"tone","type":"nominal","legend":null,"scale":{"domain":["frame","panel","edge","divider","paper","ink","inverse","present","standard","saved","muted"],"range":["#5590d6","#d9d9d9","#d0d0d0","#b4b4b4","#ffffff","#000000","#ffffff","#0000ff","#00ff00","#ff9f00","#a8a8a8"]}}}},
{"data":{"name":"plainLeft"},"mark":{"type":"text","font":"DejaVu Sans","fontSize":14,"align":"left","baseline":"middle"},"encoding":{"text":{"field":"label"},"color":{"field":"tone","type":"nominal","legend":null,"scale":{"domain":["frame","panel","edge","divider","paper","ink","inverse","present","standard","saved","muted"],"range":["#5590d6","#d9d9d9","#d0d0d0","#b4b4b4","#ffffff","#000000","#ffffff","#0000ff","#00ff00","#ff9f00","#a8a8a8"]}}}}
]
},
{
"encoding":{
"x":{"field":"p","type":"quantitative","scale":{"domain":[0,1114],"range":[222,1336],"nice":false,"zero":false},"axis":null},
"y":{"field":"v","type":"quantitative","scale":{"domain":[-0.01,5.17],"range":[685,28],"nice":false,"zero":false},"axis":null}
},
"layer":[
{"data":{"name":"green"},"mark":{"type":"line","color":"#00ff00","strokeWidth":1.2,"interpolate":"step"},"encoding":{"detail":{"field":"t"}}},
{"data":{"name":"funnel"},"mark":{"type":"line","color":"#00ff00","strokeWidth":1.2},"encoding":{"order":{"field":"i","type":"quantitative"}}}
]
},
{
"encoding":{
"x":{"field":"p","type":"quantitative","scale":{"domain":[0,1114],"range":[222,1336],"nice":false,"zero":false},"axis":null},
"y":{"field":"v","type":"quantitative","scale":{"domain":[-0.029,3.4082],"range":[685,28],"nice":false,"zero":false},"axis":null}
},
"layer":[
{"data":{"name":"blue"},"mark":{"type":"line","color":"#0000ff","strokeWidth":1.6,"interpolate":"step"},"encoding":{"detail":{"field":"t"}}},
{"data":{"name":"markers"},"mark":{"type":"line","color":"#00ff00","strokeWidth":2.6},"encoding":{"detail":{"field":"m"}}}
]
}
],
"resolve":{"scale":{"x":"independent","y":"independent"}}
}
